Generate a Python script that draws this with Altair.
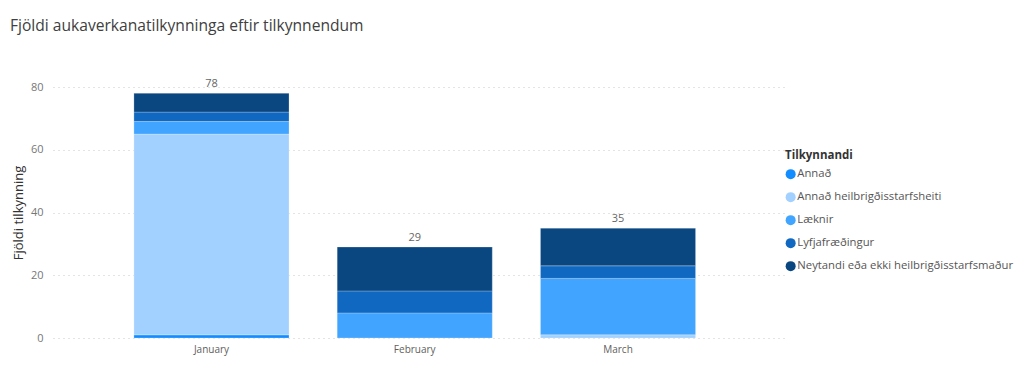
import altair as alt
import pandas as pd

months = ["January", "February", "March"]
reporters = [
    "Annað",
    "Annað heilbrigðisstarfsheiti",
    "Læknir",
    "Lyfjafræðingur",
    "Neytandi eða ekki heilbrigðisstarfsmaður",
]
colors = ["#118DFF", "#A3D1FF", "#41A4FF", "#1068C1", "#0A4781"]

annad = [1, 0, 0]
annad_heilbr = [64, 0, 1]
laeknir = [4, 8, 18]
lyfjafr = [3, 7, 4]
neytandi = [6, 14, 12]

series = [annad, annad_heilbr, laeknir, lyfjafr, neytandi]
rows = []
for ri, (name, vals) in enumerate(zip(reporters, series)):
    for m, v in zip(months, vals):
        rows.append({"Mánuður": m, "Tilkynnandi": name, "Fjöldi": v, "idx": ri})
df = pd.DataFrame(rows)

FONT = "Segoe UI, Open Sans, sans-serif"

x = alt.X(
    "Mánuður:N",
    sort=months,
    title=None,
    scale=alt.Scale(paddingInner=0.237, paddingOuter=0.419, align=0.475),
    axis=alt.Axis(
        labelAngle=0,
        domain=False,
        ticks=False,
        labelColor="#605E5C",
        labelFontSize=10,
        labelFont=FONT,
        labelPadding=6,
    ),
)

bars = (
    alt.Chart(df)
    .transform_filter(alt.datum["Fjöldi"] > 0)
    .mark_bar(stroke="#ffffff", strokeWidth=0.6, strokeOpacity=0.4)
    .encode(
        x=x,
        y=alt.Y(
            "sum(Fjöldi):Q",
            stack="zero",
            title="Fjöldi tilkynning",
            scale=alt.Scale(domain=[0, 80], nice=False),
            axis=alt.Axis(
                values=[0, 20, 40, 60, 80],
                domain=False,
                ticks=False,
                grid=True,
                gridColor="#C8C8C8",
                gridDash=[1, 4],
                gridWidth=1,
                labelColor="#777777",
                labelFontSize=11,
                labelFont=FONT,
                labelPadding=10,
                titleColor="#333333",
                titleFontSize=13,
                titleFont=FONT,
                titleFontWeight="normal",
                titlePadding=5,
            ),
        ),
        color=alt.Color(
            "Tilkynnandi:N",
            sort=reporters,
            scale=alt.Scale(domain=reporters, range=colors),
            legend=alt.Legend(
                title="Tilkynnandi",
                orient="none",
                legendX=732,
                legendY=63,
                symbolType="circle",
                symbolSize=100,
                symbolStrokeWidth=0,
                rowPadding=11,
                labelOffset=1,
                labelFontSize=11.3,
                labelFont=FONT,
                labelColor="#555555",
                titleFontSize=11.5,
                titleFont=FONT,
                titleColor="#333333",
                titleFontWeight="bold",
                titlePadding=7,
                labelLimit=300,
            ),
        ),
        order=alt.Order("idx:Q", sort="ascending"),
    )
)

totals = (
    alt.Chart(df)
    .mark_text(dy=-9, fontSize=11, color="#666666", font=FONT)
    .encode(
        x=alt.X("Mánuður:N", sort=months),
        y=alt.Y("sum(Fjöldi):Q"),
        text=alt.Text("sum(Fjöldi):Q"),
    )
)

chart = (
    alt.layer(bars, totals)
    .properties(
        width=732,
        height=251,
        autosize=alt.AutoSizeParams(type="none"),
        padding={"left": 45, "top": 79, "right": 230, "bottom": 24},
        title=alt.TitleParams(
            "Fjöldi aukaverkanatilkynninga eftir tilkynnendum",
            anchor="start",
            frame="group",
            dx=-43,
            offset=44,
            fontSize=15.6,
            font=FONT,
            fontWeight="normal",
            color="#404040",
        ),
    )
    .configure_view(stroke=None)
)

chart.save("out.html", embed_options={"renderer": "svg", "actions": False})
